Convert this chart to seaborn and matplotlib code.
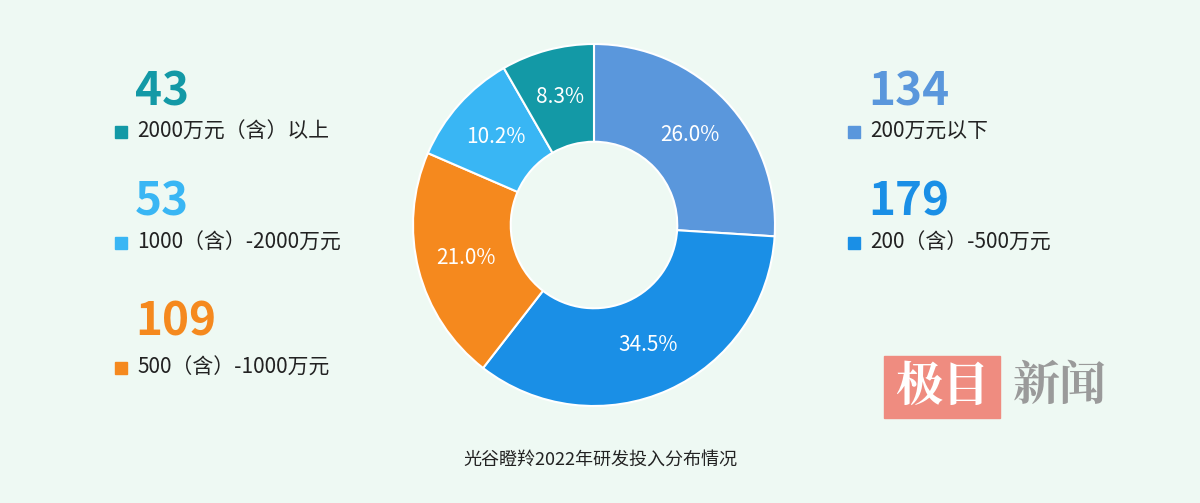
import matplotlib.pyplot as plt
import seaborn as sns
import numpy as np
from matplotlib.patches import FancyBboxPatch

categories = ['200万元以下', '200（含）-500万元', '500（含）-1000万元', '1000（含）-2000万元', '2000万元（含）以上']
counts = [134, 179, 109, 53, 43]
shares = [26.0, 34.5, 21.0, 10.2, 8.3]
colors = ['#5a97dc', '#1a8fe6', '#f5891e', '#39b6f4', '#1399a6']

sns.set_theme(style='white')
plt.rcParams['font.family'] = ['Noto Sans CJK SC', 'DejaVu Sans']

fig = plt.figure(figsize=(12, 5.03), dpi=100)
fig.patch.set_facecolor('#eef9f3')
cx, cy, r = 594, 225, 181
ax = fig.add_axes([(cx - r) / 1200, 1 - (cy + r) / 503, 2 * r / 1200, 2 * r / 503])
ax.set_facecolor('none')
wedges, texts = ax.pie(shares, colors=colors, startangle=90, counterclock=False, radius=1,
                       wedgeprops=dict(width=0.54, edgecolor='white', linewidth=1.5))
ax.set_xlim(-1, 1)
ax.set_ylim(-1, 1)
ang = 90
for w, s in zip(wedges, shares):
    mid = np.deg2rad(ang - s * 3.6 / 2)
    ang -= s * 3.6
    ax.text(0.73 * np.cos(mid), 0.73 * np.sin(mid), f'{s:.1f}%', ha='center', va='center',
            color='white', fontsize=15)

# legend blocks: (x of square, y of number, y of label)
spots = [(848, 92, 132), (848, 202, 243), (115, 322, 368), (115, 202, 243), (115, 92, 132)]
for (x, yn, yl), c, n, lab in zip(spots, colors, counts, categories):
    fig.text((x + 20) / 1200, 1 - yn / 503, str(n), color=c, fontsize=33, fontweight='bold',
             va='center', ha='left')
    fig.patches.append(FancyBboxPatch((x / 1200, 1 - (yl + 6) / 503), 12 / 1200, 12 / 503,
                                      boxstyle='square,pad=0', transform=fig.transFigure,
                                      color=c))
    fig.text((x + 22) / 1200, 1 - yl / 503, lab, color='#222222', fontsize=15, va='center', ha='left')

fig.text(0.5, 1 - 460 / 503, '光谷瞪羚2022年研发投入分布情况', ha='center', va='center',
         fontsize=13, color='#222222')

# watermark
fig.patches.append(FancyBboxPatch((884 / 1200, 1 - 418 / 503), 116 / 1200, 62 / 503,
                                  boxstyle='square,pad=0', transform=fig.transFigure,
                                  color='#ef8c80', zorder=0))
fig.text(942 / 1200, 1 - 387 / 503, '极目', ha='center', va='center', fontsize=34,
         color='white', fontweight='bold', family=['Noto Serif CJK SC', 'Noto Sans CJK SC'])
fig.text(1060 / 1200, 1 - 387 / 503, '新闻', ha='center', va='center', fontsize=34,
         color='#9a9a9a', fontweight='bold', family=['Noto Serif CJK SC', 'Noto Sans CJK SC'])

fig.savefig('out.png', dpi=100, facecolor=fig.get_facecolor())
